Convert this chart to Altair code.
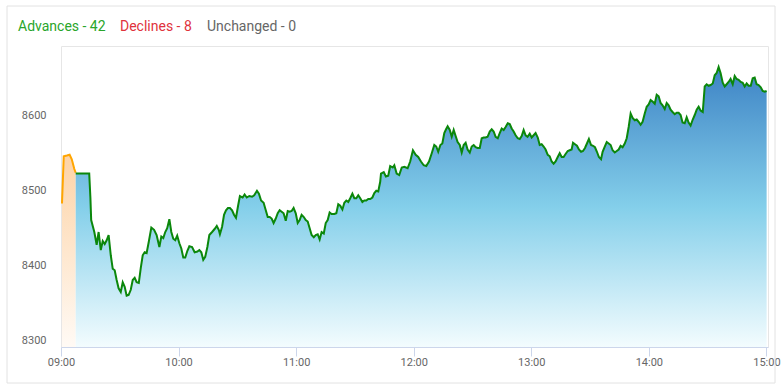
import altair as alt
import pandas as pd

# ---- header counters ----
legend_labels = ["Advances - 42", "Declines - 8", "Unchanged - 0"]
legend_colors = ["#2aa52a", "#e0323c", "#666666"]

# ---- x / y axis ----
hour_ticks = [0, 60, 120, 180, 240, 300, 360]          # minutes after 09:00
value_ticks = [8300, 8400, 8500, 8600]

# ---- pre-open session (minutes after 09:00, index value) ----
pre_minutes = [0.5, 1.4, 3.0, 4.4, 5.5, 6.8, 7.5]
pre_values = [8482, 8545, 8546, 8547, 8541, 8528, 8523]

# ---- regular session ----
minutes = [
    7.5, 14.4, 15.0, 15.4,
    15.8, 17.0, 18.2, 19.2, 20.3, 21.3, 22.3, 23.3, 24.3, 25.4, 26.4, 27.4, 28.4, 29.4,
    30.5, 31.5, 32.5, 33.5, 34.5, 35.6,
    36.6, 37.6, 38.6, 39.7, 40.7, 41.7, 42.7, 43.7,
    44.8, 46.1, 47.5, 48.8, 50.2, 51.2, 52.2, 53.2, 54.2,
    55.3, 56.3, 57.3, 58.3, 59.3, 60.4, 61.4, 62.4, 63.4, 64.5, 65.5,
    66.9, 68.2, 69.6, 70.6, 71.6, 72.6, 73.6, 74.7, 75.7,
    77.1, 78.4, 79.5, 80.5, 81.1, 82.2,
    83.2, 84.2, 85.2, 86.2, 87.3, 88.3, 89.3, 90.3, 91.3,
    92.7, 93.7, 94.8, 96.1, 97.5, 98.6, 100.0, 101.0, 102.1, 103.4,
    104.5, 105.5, 106.5, 107.5, 108.5, 109.6, 110.6, 111.6, 112.6, 113.6,
    114.7, 115.7, 116.7, 117.7, 118.7, 119.8, 120.8, 121.8, 122.8, 123.9, 124.9, 125.9,
    126.9, 127.9, 129.0, 130.0, 131.0, 132.0, 133.0, 134.1, 135.1, 136.1, 137.1, 138.1,
    139.5, 140.5, 141.5, 142.5, 143.6, 144.6, 145.6, 146.6, 147.6, 148.7, 149.7, 150.7,
    151.7, 152.7, 153.8, 154.8, 155.8, 156.8, 157.8, 158.9, 159.9, 160.9, 161.9, 162.9, 163.3,
    164.7, 165.8, 167.0, 168.0, 169.3, 170.1, 171.3, 172.6, 173.9, 175.2, 176.9, 178.2,
    179.6, 181.0, 182.3, 183.7, 185.1, 186.4, 187.8, 189.2, 190.5, 191.5, 192.5, 193.6, 194.6,
    195.6, 196.5, 197.3, 198.4, 199.4, 200.4, 201.4, 202.4, 203.5, 204.5, 205.5, 206.5,
    207.5, 208.6, 209.6, 210.6, 211.6, 212.6, 213.7, 214.7, 215.7, 216.7, 217.7, 218.8,
    219.8, 220.8, 221.8, 222.9, 223.9, 224.9, 225.9, 226.9, 228.0, 229.0, 230.0, 231.0,
    232.0, 233.1, 234.1, 235.1, 236.1, 237.1, 238.1, 239.2, 240.2, 241.2, 242.2, 243.3,
    244.3, 245.3, 246.3, 247.3, 248.4, 249.4, 250.4, 251.4, 252.4, 253.5, 254.5, 255.5,
    256.5, 257.5, 258.6, 259.6, 260.6, 261.3, 262.3, 263.3, 264.3, 265.4, 266.4, 267.4,
    268.4, 269.4, 270.5, 271.5, 272.5, 273.5, 274.5, 275.6, 276.4, 277.5, 278.5, 279.5,
    280.5, 281.5, 282.6, 283.6, 284.6, 285.6, 286.6, 287.7, 288.7, 289.7, 290.7, 291.7,
    292.8, 293.8, 294.8, 295.8, 296.8, 297.9, 298.9, 299.9, 300.9, 301.9, 303.0, 304.0,
    305.0, 306.0, 307.0, 308.1, 309.1, 310.1, 311.1, 312.1, 313.2, 314.2, 315.2, 316.2,
    317.2, 318.3, 319.3, 320.3, 321.3, 322.4, 323.4, 324.4, 325.4, 326.4, 327.5, 328.5,
    329.5, 330.5, 331.5, 332.6, 333.6, 334.6, 335.6, 336.6, 337.7, 338.7, 339.7, 340.7,
    341.7, 342.8, 343.8, 344.8, 345.8, 346.9, 347.9, 348.9, 349.9, 350.9, 352.0, 353.0,
    354.0, 355.0, 356.0, 357.1, 358.1, 359.1, 360.1,
]
values = [
    8522, 8522, 8490, 8460,
    8456, 8444, 8427, 8444, 8420, 8432, 8428, 8433, 8440, 8413, 8395, 8393, 8380, 8369,
    8364, 8377, 8371, 8359, 8360, 8367,
    8380, 8383, 8377, 8376, 8396, 8413, 8417, 8416,
    8431, 8450, 8447, 8440, 8424, 8438, 8436, 8444, 8449,
    8461, 8444, 8435, 8433, 8439, 8429, 8422, 8410, 8410, 8419, 8425,
    8424, 8417, 8418, 8420, 8417, 8407, 8411, 8424, 8440,
    8444, 8448, 8452, 8447, 8441, 8451,
    8467, 8473, 8476, 8476, 8473, 8467, 8463, 8478, 8492,
    8490, 8494, 8490, 8492, 8491, 8493, 8499, 8495, 8486, 8483,
    8473, 8464, 8464, 8462, 8456, 8462, 8469, 8473, 8471, 8469,
    8459, 8472, 8471, 8472, 8476, 8469, 8456, 8460, 8467, 8464, 8460, 8458,
    8449, 8440, 8437, 8440, 8441, 8434, 8444, 8442, 8456, 8460, 8470, 8468,
    8468, 8469, 8481, 8479, 8474, 8483, 8486, 8484, 8489, 8495, 8489, 8489,
    8493, 8489, 8484, 8486, 8486, 8488, 8488, 8490, 8496, 8499, 8498, 8511, 8522,
    8524, 8518, 8519, 8532, 8530, 8533, 8522, 8520, 8530, 8531, 8529, 8538,
    8553, 8547, 8544, 8538, 8533, 8532, 8538, 8549, 8560, 8558, 8551, 8560, 8562,
    8576, 8581, 8585, 8580, 8571, 8580, 8572, 8564, 8560, 8550, 8560, 8563,
    8554, 8550, 8558, 8560, 8557, 8556, 8556, 8569, 8570, 8570, 8571, 8578,
    8581, 8578, 8571, 8569, 8576, 8582, 8580, 8584, 8589, 8588, 8582, 8578,
    8573, 8569, 8568, 8572, 8580, 8573, 8571, 8575, 8570, 8573, 8576, 8570,
    8560, 8561, 8558, 8554, 8547, 8545, 8538, 8535, 8538, 8544, 8549, 8544,
    8544, 8548, 8552, 8553, 8554, 8563, 8561, 8559, 8554, 8551, 8552, 8556,
    8562, 8568, 8560, 8559, 8557, 8551, 8544, 8541, 8551, 8558, 8564, 8562,
    8560, 8553, 8550, 8552, 8554, 8559, 8557, 8562, 8569, 8584, 8602, 8596,
    8593, 8594, 8591, 8587, 8591, 8602, 8611, 8614, 8620, 8618, 8615, 8627,
    8625, 8616, 8613, 8608, 8616, 8613, 8607, 8604, 8601, 8603, 8603, 8600,
    8590, 8589, 8597, 8590, 8586, 8594, 8600, 8607, 8611, 8606, 8604, 8638,
    8641, 8639, 8640, 8642, 8653, 8656, 8664, 8656, 8643, 8638, 8641, 8644,
    8648, 8641, 8652, 8648, 8647, 8644, 8643, 8638, 8642, 8639, 8639, 8649,
    8650, 8641, 8640, 8637, 8632, 8631, 8632,
]

Y_MIN, Y_MAX = 8290.7, 8692
X_MIN, X_MAX = 0, 360.8

n = min(len(minutes), len(values))
main = pd.DataFrame({"m": minutes[:n], "v": values[:n]})
main["base"] = Y_MIN
pre = pd.DataFrame({"m": pre_minutes, "v": pre_values})
pre["base"] = Y_MIN

label_expr = "(datum.value < 60 ? '0' : '') + (9 + floor(datum.value / 60)) + ':00'"

x_enc = alt.X(
    "m:Q",
    scale=alt.Scale(domain=[X_MIN, X_MAX], nice=False, zero=False),
    axis=alt.Axis(
        values=hour_ticks, labelExpr=label_expr, title=None, grid=False,
        domainColor="#ccd6eb", tickColor="#ccd6eb", tickSize=9,
        labelColor="#666666", labelFontSize=11, labelFont="Roboto",
        labelPadding=0, labelFlush=False,
    ),
)
y_enc = alt.Y(
    "v:Q",
    scale=alt.Scale(domain=[Y_MIN, Y_MAX], nice=False, zero=False),
    axis=alt.Axis(
        values=value_ticks, title=None, grid=False, domain=False, ticks=False,
        tickSize=0, labelPadding=15, labelColor="#666666", labelFontSize=11,
        labelFont="Roboto", format="d",
    ),
)

blue_grad = alt.Gradient(
    gradient="linear",
    stops=[
        alt.GradientStop(color="#3d83c5", offset=0),
        alt.GradientStop(color="#84cfea", offset=0.5),
        alt.GradientStop(color="#f3fcfe", offset=1),
    ],
    x1=0, x2=0, y1=0, y2=1,
)
orange_grad = alt.Gradient(
    gradient="linear",
    stops=[
        alt.GradientStop(color="#fdd3a6", offset=0),
        alt.GradientStop(color="#fffaf5", offset=1),
    ],
    x1=0, x2=0, y1=0, y2=1,
)

border = alt.Chart(pd.DataFrame({"a": [0]})).mark_rect(
    fillOpacity=0, stroke="#e2e2e2", strokeWidth=1
).encode(
    x=alt.value(-54), x2=alt.value(714), y=alt.value(-40), y2=alt.value(337)
)

pre_area = alt.Chart(pre).mark_area(color=orange_grad, clip=True).encode(
    x=x_enc, y=y_enc, y2=alt.Y2("base:Q")
)
main_area = alt.Chart(main).mark_area(color=blue_grad, clip=True).encode(
    x=x_enc, y=y_enc, y2=alt.Y2("base:Q")
)
pre_line = alt.Chart(pre).mark_line(color="#ffa500", strokeWidth=2, clip=True).encode(
    x=x_enc, y=y_enc
)
main_line = alt.Chart(main).mark_line(color="#0b870b", strokeWidth=2, clip=True).encode(
    x=x_enc, y=y_enc
)

header_x = [-43, 59, 146]
texts = []
for lbl, col, hx in zip(legend_labels, legend_colors, header_x):
    texts.append(
        alt.Chart(pd.DataFrame({"t": [lbl]})).mark_text(
            align="left", baseline="middle", fontSize=14, font="Roboto", color=col
        ).encode(text="t:N", x=alt.value(hx), y=alt.value(-19))
    )

chart = alt.layer(border, pre_area, main_area, pre_line, main_line, *texts).properties(
    width=707,
    height=301,
    padding={"left": 61, "top": 46, "right": 13, "bottom": 42},
    autosize=alt.AutoSizeParams(type="none"),
).configure_view(stroke="#e6e6e6", strokeWidth=1)

chart.save("out.html", embed_options={"renderer": "svg", "actions": False})
